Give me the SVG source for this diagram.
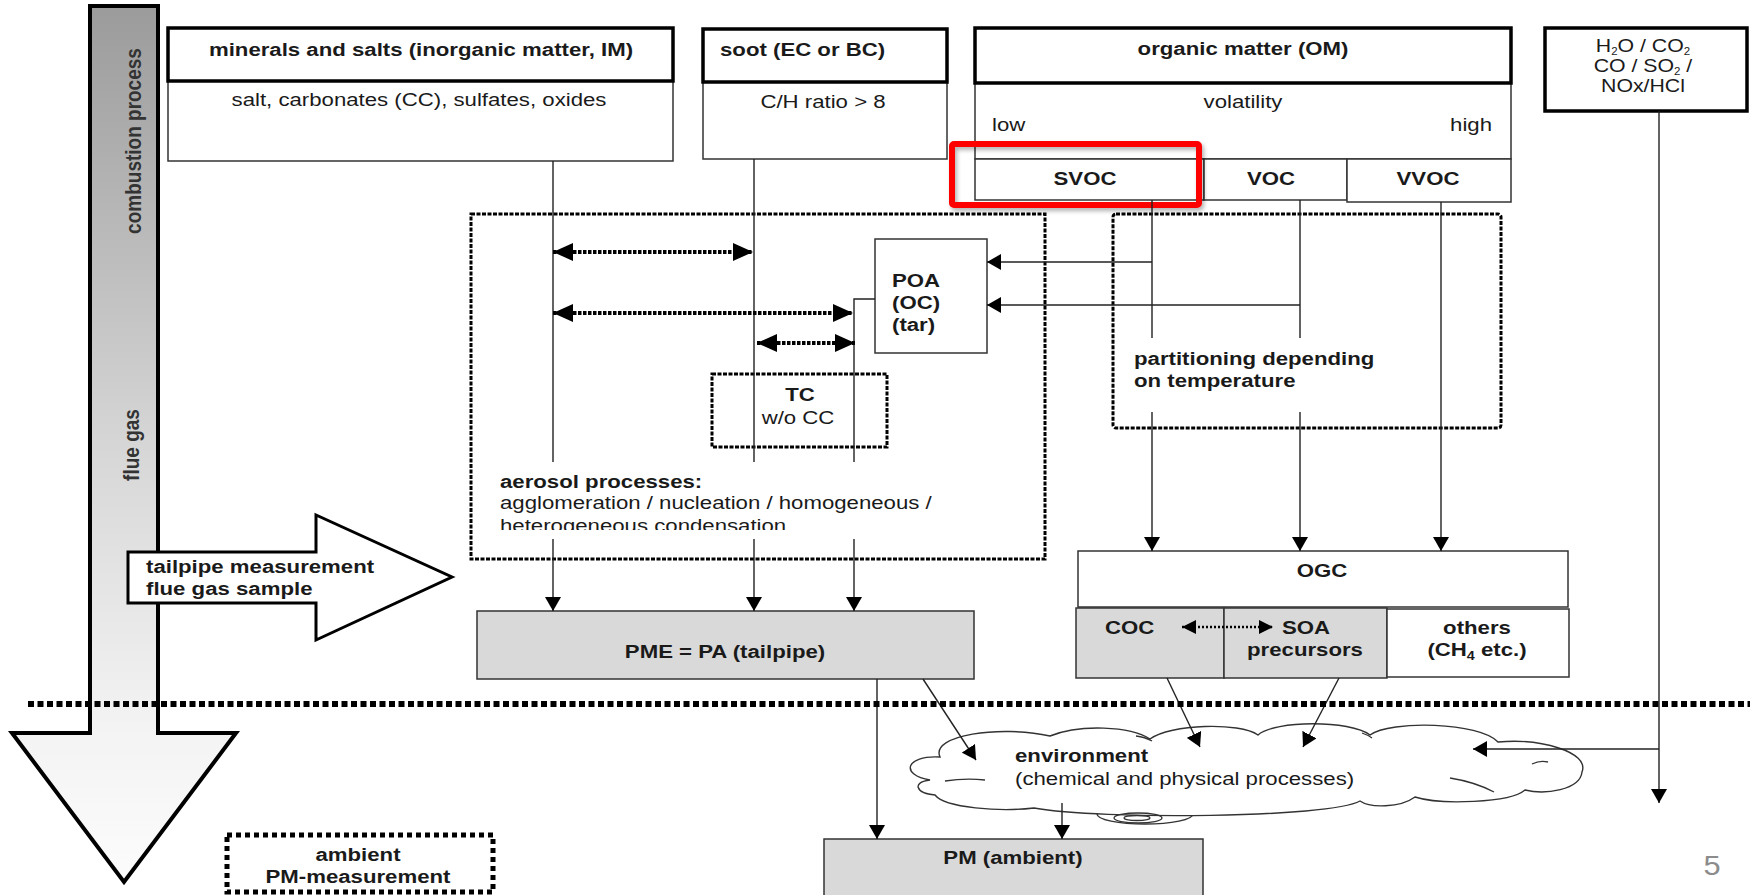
<svg xmlns="http://www.w3.org/2000/svg" width="1750" height="895" viewBox="0 0 1750 895">
<style>
.hdr{fill:#fff;stroke:#000;stroke-width:3.5}
.box{fill:#fff;stroke:#333;stroke-width:1.5}
.gray{fill:#d9d9d9;stroke:#333;stroke-width:1.5}
.dot{fill:none;stroke:#000;stroke-width:3;stroke-dasharray:4 1.5}
.ln{fill:none;stroke:#222;stroke-width:1.4}
.dl{fill:none;stroke:#000;stroke-width:4;stroke-dasharray:3.5 1.5}
.cl{fill:#fff;stroke:#333;stroke-width:1.4}
.t{font-family:"Liberation Sans",Arial,sans-serif;font-size:18.5px;fill:#1a1a1a}
.b{font-weight:bold}
.m{text-anchor:middle}
.e{text-anchor:end}
.side{font-family:"Liberation Sans",Arial,sans-serif;font-size:19px;font-weight:bold;fill:#333;text-anchor:middle}
</style>
<defs>
<linearGradient id="gShaft" gradientUnits="userSpaceOnUse" x1="0" y1="6" x2="0" y2="882">
<stop offset="0" stop-color="#9b9b9b"/>
<stop offset="0.5" stop-color="#d6d6d6"/>
<stop offset="0.82" stop-color="#f3f3f3"/>
<stop offset="1" stop-color="#fcfcfc"/>
</linearGradient>
<marker id="ah" viewBox="0 0 14 16" refX="14" refY="8" markerWidth="14" markerHeight="16" markerUnits="userSpaceOnUse" orient="auto"><path d="M0,0 L14,8 L0,16 Z" fill="#000"/></marker>
<marker id="ahd" viewBox="0 0 20 18" refX="20" refY="9" markerWidth="20" markerHeight="18" markerUnits="userSpaceOnUse" orient="auto-start-reverse"><path d="M0,0 L20,9 L0,18 Z" fill="#000"/></marker>
<marker id="ahs" viewBox="0 0 14 14" refX="14" refY="7" markerWidth="14" markerHeight="14" markerUnits="userSpaceOnUse" orient="auto-start-reverse"><path d="M0,0 L14,7 L0,14 Z" fill="#000"/></marker>
<clipPath id="clipAer"><rect x="470" y="460" width="560" height="70"/></clipPath>
<filter id="sh" x="-10%" y="-20%" width="130%" height="160%"><feDropShadow dx="2" dy="3" stdDeviation="2" flood-color="#000" flood-opacity="0.3"/></filter>
</defs>

<g id="process-arrow">
<path d="M90,6 L158,6 L158,733 L236,733 L124,882 L12,733 L90,733 Z" fill="url(#gShaft)" stroke="#000" stroke-width="4"/>
<text class="side" transform="translate(141,141) rotate(-90) scale(1,1.15)">combustion process</text>
<text class="side" transform="translate(139,445) rotate(-90) scale(1,1.15)">flue gas</text>
</g>

<g id="minerals">
<rect class="box" x="168" y="81" width="505" height="80"/>
<rect class="hdr" x="168" y="28" width="505" height="53"/>
<text class="t b m" transform="translate(421,56) scale(1.2,1)">minerals and salts (inorganic matter, IM)</text>
<text class="t m" transform="translate(419,106) scale(1.2,1)">salt, carbonates (CC), sulfates, oxides</text>
</g>

<g id="soot">
<rect class="box" x="703" y="82" width="244" height="77"/>
<rect class="hdr" x="703" y="29" width="244" height="53"/>
<text class="t b" transform="translate(720,56) scale(1.2,1)">soot (EC or BC)</text>
<text class="t m" transform="translate(823,108) scale(1.2,1)">C/H ratio &gt; 8</text>
</g>

<g id="organic-matter">
<rect class="box" x="975" y="83" width="536" height="76"/>
<rect class="hdr" x="975" y="28" width="536" height="55"/>
<text class="t b m" transform="translate(1243,55) scale(1.2,1)">organic matter (OM)</text>
<text class="t m" transform="translate(1243,108) scale(1.2,1)">volatility</text>
<text class="t" transform="translate(992,131) scale(1.2,1)">low</text>
<text class="t e" transform="translate(1492,131) scale(1.2,1)">high</text>
</g>

<g id="svoc">
<rect class="box" x="975" y="159" width="229" height="41"/>
<text class="t b m" transform="translate(1085,185) scale(1.2,1)">SVOC</text>
</g>
<g id="voc">
<rect class="box" x="1204" y="159" width="143" height="41"/>
<text class="t b m" transform="translate(1271,185) scale(1.2,1)">VOC</text>
</g>
<g id="vvoc">
<rect class="box" x="1347" y="159" width="164" height="43"/>
<text class="t b m" transform="translate(1428,185) scale(1.2,1)">VVOC</text>
</g>

<g id="highlight">
<rect x="952" y="144" width="247" height="61" rx="2" fill="none" stroke="#ff0000" stroke-width="6" filter="url(#sh)"/>
</g>

<g id="gases">
<rect class="hdr" x="1545" y="28" width="202" height="83" stroke-width="4"/>
<text class="t m" font-size="16" transform="translate(1643,52) scale(1.15,1)">H<tspan font-size="10" dy="3">2</tspan><tspan dy="-3">O / CO</tspan><tspan font-size="10" dy="3">2</tspan></text>
<text class="t m" font-size="16" transform="translate(1643,72) scale(1.15,1)">CO / SO<tspan font-size="10" dy="3">2</tspan><tspan dy="-3"> /</tspan></text>
<text class="t m" font-size="16" transform="translate(1643,92) scale(1.15,1)">NOx/HCl</text>
</g>

<g id="aerosol-processes">
<rect class="dot" x="471" y="214" width="574" height="345"/>
<text class="t b" transform="translate(500,488) scale(1.2,1)">aerosol processes:</text>
<text class="t" transform="translate(500,509) scale(1.2,1)">agglomeration / nucleation / homogeneous /</text>
<g clip-path="url(#clipAer)">
<text class="t" transform="translate(500,532) scale(1.2,1)">heterogeneous condensation</text>
</g>
</g>

<g id="poa">
<rect class="box" x="875" y="239" width="112" height="114"/>
<text class="t b" transform="translate(892,287) scale(1.2,1)">POA</text>
<text class="t b" transform="translate(892,309) scale(1.2,1)">(OC)</text>
<text class="t b" transform="translate(892,331) scale(1.2,1)">(tar)</text>
</g>

<g id="tc">
<rect class="dot" x="712" y="374" width="175" height="73"/>
<text class="t b m" transform="translate(800,401) scale(1.2,1)">TC</text>
<text class="t m" transform="translate(798,424) scale(1.2,1)">w/o CC</text>
</g>

<g id="partitioning">
<rect class="dot" x="1113" y="214" width="388" height="214" rx="3"/>
<text class="t b" transform="translate(1134,365) scale(1.2,1)">partitioning depending</text>
<text class="t b" transform="translate(1134,387) scale(1.2,1)">on temperature</text>
</g>

<g id="tailpipe">
<path d="M128,552 L316,552 L316,515 L452,577 L316,640 L316,603 L128,603 Z" fill="#fff" stroke="#000" stroke-width="3"/>
<text class="t b" transform="translate(146,573) scale(1.2,1)">tailpipe measurement</text>
<text class="t b" transform="translate(146,595) scale(1.2,1)">flue gas sample</text>
</g>

<g id="pme">
<rect class="gray" x="477" y="611" width="497" height="68"/>
<text class="t b m" transform="translate(725,658) scale(1.2,1)">PME = PA (tailpipe)</text>
</g>

<g id="ogc">
<rect class="box" x="1078" y="551" width="490" height="56"/>
<text class="t b m" transform="translate(1322,577) scale(1.2,1)">OGC</text>
</g>
<g id="coc">
<rect class="gray" x="1076" y="608" width="148" height="70"/>
<text class="t b" transform="translate(1105,634) scale(1.2,1)">COC</text>
</g>
<g id="soa">
<rect class="gray" x="1224" y="608" width="163" height="70"/>
<text class="t b" transform="translate(1282,634) scale(1.2,1)">SOA</text>
<text class="t b m" transform="translate(1305,656) scale(1.2,1)">precursors</text>
</g>
<g id="others">
<rect class="box" x="1387" y="609" width="182" height="68"/>
<text class="t b m" transform="translate(1477,634) scale(1.2,1)">others</text>
<text class="t b m" transform="translate(1477,656) scale(1.2,1)">(CH<tspan font-size="12" dy="4">4</tspan><tspan dy="-4"> etc.)</tspan></text>
</g>

<g id="environment">
<ellipse class="cl" cx="1145" cy="814" rx="48" ry="10"/>
<path class="cl" d="M930,780 C900,775 905,755 940,757 C930,735 1000,725 1050,736 C1080,724 1130,726 1150,739 C1170,724 1240,722 1258,735 C1275,720 1350,720 1370,735 C1390,720 1480,722 1498,742 C1540,738 1590,752 1582,772 C1580,790 1545,795 1525,790 C1510,803 1440,805 1415,797 C1400,808 1370,808 1360,801 C1330,818 1100,820 1034,808 C1000,812 945,808 935,795 C915,793 912,782 930,780 Z"/>
<ellipse cx="1138" cy="818" rx="24" ry="5" fill="none" stroke="#333" stroke-width="1.3"/>
<ellipse cx="1137" cy="818" rx="13" ry="2.5" fill="none" stroke="#333" stroke-width="1.3"/>
<path d="M945,781 Q965,778 985,780 M1450,778 Q1475,782 1494,792 M1532,764 Q1540,760 1548,762 M1136,736 Q1145,737 1152,741 M1362,733 Q1368,735 1372,738" fill="none" stroke="#333" stroke-width="1.3"/>
<text class="t b" transform="translate(1015,762) scale(1.2,1)">environment</text>
<text class="t" transform="translate(1015,785) scale(1.2,1)">(chemical and physical processes)</text>
</g>

<g id="pm-ambient">
<rect class="gray" x="824" y="839" width="379" height="70"/>
<text class="t b m" transform="translate(1013,864) scale(1.2,1)">PM (ambient)</text>
</g>

<g id="ambient-measurement">
<rect x="227" y="835" width="266" height="57" fill="none" stroke="#000" stroke-width="5" stroke-dasharray="5 4"/>
<text class="t b m" transform="translate(358,861) scale(1.2,1)">ambient</text>
<text class="t b m" transform="translate(358,883) scale(1.2,1)">PM-measurement</text>
</g>

<g id="page-number">
<text class="m" font-family="Liberation Sans, Arial, sans-serif" font-size="28" fill="#8c8c8c" transform="translate(1712,875) scale(1.1,1)">5</text>
</g>

<g id="connectors">
<path class="ln" d="M553,161 V462 M754,159 V462 M875,299 H854 V462 M1152,200 V338 M1300,200 V338"/>
<path class="ln" marker-end="url(#ah)" d="M553,539 V611"/>
<path class="ln" marker-end="url(#ah)" d="M754,539 V611"/>
<path class="ln" marker-end="url(#ah)" d="M854,539 V611"/>
<path class="ln" marker-end="url(#ah)" d="M1152,262 H987"/>
<path class="ln" marker-end="url(#ah)" d="M1300,305 H987"/>
<path class="ln" marker-end="url(#ah)" d="M1152,412 V551"/>
<path class="ln" marker-end="url(#ah)" d="M1300,412 V551"/>
<path class="ln" marker-end="url(#ah)" d="M1441,202 V551"/>
<path class="ln" marker-end="url(#ah)" d="M1659,111 V803"/>
<path class="ln" marker-end="url(#ah)" d="M1659,749 H1473"/>
<path class="ln" marker-end="url(#ah)" d="M923,679 L976,760"/>
<path class="ln" marker-end="url(#ah)" d="M877,679 V839"/>
<path class="ln" marker-end="url(#ah)" d="M1062,803 V839"/>
<path class="ln" marker-end="url(#ah)" d="M1167,678 L1200,747"/>
<path class="ln" marker-end="url(#ah)" d="M1339,678 L1303,747"/>
<path class="dl" marker-start="url(#ahd)" marker-end="url(#ahd)" d="M553,252 H753"/>
<path class="dl" marker-start="url(#ahd)" marker-end="url(#ahd)" d="M553,313 H853"/>
<path class="dl" marker-start="url(#ahd)" marker-end="url(#ahd)" d="M757,343 H855"/>
<path fill="none" stroke="#000" stroke-width="2.5" stroke-dasharray="2 2" marker-start="url(#ahs)" marker-end="url(#ahs)" d="M1182,627 H1273"/>
<path fill="none" stroke="#000" stroke-width="6" stroke-dasharray="6 3.5" d="M28,704 H1750"/>
</g>
</svg>
